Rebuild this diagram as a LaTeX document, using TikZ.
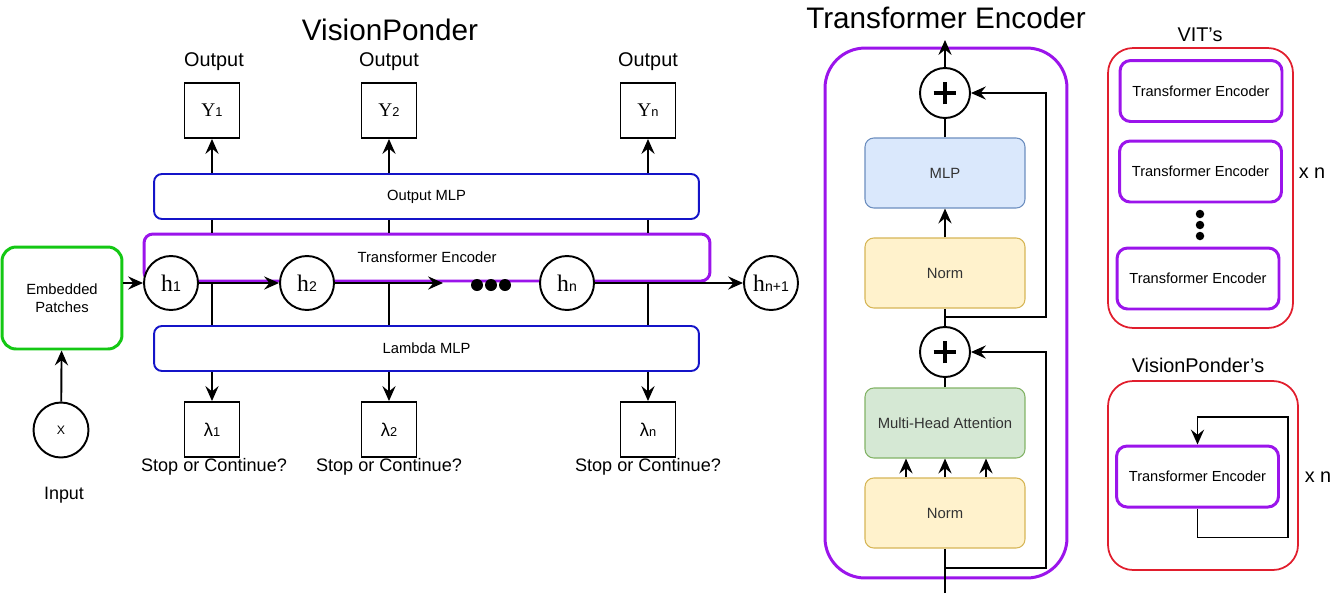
\documentclass[tikz,border=0pt]{standalone}
\usepackage{fontspec}
\setmainfont{Liberation Sans}[Ligatures=ResetAll]
\newfontfamily\tnr{Liberation Serif}
\usetikzlibrary{arrows.meta}
\definecolor{encpurple}{RGB}{155,20,235}
\definecolor{mlpblue}{RGB}{20,20,200}
\definecolor{embgreen}{RGB}{20,200,20}
\definecolor{vitred}{RGB}{225,30,45}
\definecolor{mlpfill}{HTML}{DAE8FC}
\definecolor{mlpline}{HTML}{6C8EBF}
\definecolor{normfill}{HTML}{FFF2CC}
\definecolor{normline}{HTML}{D6B656}
\definecolor{attfill}{HTML}{D5E8D4}
\definecolor{attline}{HTML}{82B366}
\newcommand{\hsym}[2]{{\tnr\fontsize{13.5}{14}\selectfont #1}{\fontsize{8}{8}\selectfont #2}}
\newcommand{\ysym}[1]{{\tnr\fontsize{11}{11}\selectfont Y}{\fontsize{7.3}{7}\selectfont #1}}
\newcommand{\lsym}[1]{{\fontsize{10.5}{10}\selectfont λ}{\fontsize{7.3}{7}\selectfont #1}}
\tikzset{
  arr/.style={-{Stealth[length=8.5pt,width=7.5pt,inset=3pt]}},
  title/.style={font=\fontsize{16.9}{18}\selectfont},
  lbl/.style={font=\fontsize{11.3}{13}\selectfont},
  sqbox/.style={draw, minimum width=1.1cm, minimum height=1.1cm, inner sep=0pt},
  hcirc/.style={draw, circle, minimum size=1.08cm, inner sep=0pt},
  mlpbar/.style={draw=mlpblue, rounded corners=4.5pt, minimum width=10.9cm, minimum height=0.9cm,
    font=\fontsize{8.4}{10}\selectfont},
  encbar/.style={draw=encpurple, line width=1.7pt, rounded corners=5pt, minimum width=11.32cm,
    minimum height=0.94cm, font=\fontsize{8.4}{10}\selectfont},
  encsmall/.style={draw=encpurple, line width=1.7pt, rounded corners=6pt, minimum width=3.24cm,
    minimum height=1.22cm, font=\fontsize{8.3}{10}\selectfont},
  embbox/.style={draw=embgreen, line width=1.7pt, rounded corners=8pt, minimum width=2.4cm,
    minimum height=2.04cm, align=center, font=\fontsize{8.4}{10.2}\selectfont},
  redbox/.style={draw=vitred, line width=1pt, rounded corners=0.5cm},
  block/.style={rounded corners=5pt, minimum width=3.2cm, minimum height=1.4cm, line width=0.6pt,
    text=black!80, font=\fontsize{8.45}{10}\selectfont},
  plusc/.style={draw, fill=white, circle, minimum size=1cm, inner sep=0pt,
    path picture={\draw[line width=2.3pt]
      ([xshift=-6.5pt]path picture bounding box.center) -- ([xshift=6.5pt]path picture bounding box.center)
      ([yshift=-6.5pt]path picture bounding box.center) -- ([yshift=6.5pt]path picture bounding box.center);}}
}
\begin{document}
\begin{tikzpicture}[x=0.02cm,y=-0.02cm,line width=1.1pt]
\useasboundingbox (0,0) rectangle (1339,603);
% VisionPonder
\node[title] (vptitle) at (390,30) {VisionPonder};
\node[lbl] (out1) at (214,62) {Output};
\node[lbl] (out2) at (389,62) {Output};
\node[lbl] (outn) at (648,62) {Output};
\node[sqbox] (y1) at (212,110.5) {\ysym{1}};
\node[sqbox] (y2) at (389,110.5) {\ysym{2}};
\node[sqbox] (yn) at (648,110.5) {\ysym{n}};
\node[mlpbar] (outmlp) at (426.5,196.5) {Output MLP};
\node[encbar] (enc) at (427,257.5) {\raisebox{-3pt}{Transformer Encoder}};
\node[mlpbar] (lammlp) at (426.5,348.5) {Lambda MLP};
\node[sqbox] (l1) at (212,429.5) {\lsym{1}};
\node[sqbox] (l2) at (389,429.5) {\lsym{2}};
\node[sqbox] (ln) at (648,429.5) {\lsym{n}};
\node[lbl, font=\fontsize{10.3}{12}\selectfont] (stop1) at (214,467) {Stop or Continue?};
\node[lbl, font=\fontsize{10.3}{12}\selectfont] (stop2) at (389,467) {Stop or Continue?};
\node[lbl, font=\fontsize{10.3}{12}\selectfont] (stopn) at (648,467) {Stop or Continue?};
\node[embbox] (emb) at (62,298) {Embedded\\Patches};
\node[hcirc, minimum size=1.1cm, font=\fontsize{7}{7}\selectfont] (xin) at (61,430) {X};
\node[lbl, font=\fontsize{10.2}{12}\selectfont] (input) at (64,495) {Input};
\node[hcirc, fill=white] (h1) at (171,283) {\hsym{h}{1}};
\node[hcirc, fill=white] (h2) at (307,283) {\hsym{h}{2}};
\node[hcirc, fill=white] (hn) at (567,283) {\hsym{h}{n}};
\node[hcirc] (hn1) at (771,283) {\hsym{h}{n+1}};
\coordinate (dotsl) at (443,283);
\fill (477,285) circle [radius=0.12cm] (491,285) circle [radius=0.12cm] (505,285) circle [radius=0.12cm];
\draw[arr] (emb.east |- h1) -- (h1);
\draw[arr] (xin) -- (emb);
\draw[arr] (h1) -- (h2);
\draw[arr] (h2) -- (dotsl);
\draw[arr] (hn) -- (hn1);
\draw[arr] (y1 |- outmlp.north) -- (y1);
\draw[arr] (y2 |- outmlp.north) -- (y2);
\draw[arr] (yn |- outmlp.north) -- (yn);
\draw (y1 |- outmlp.south) -- (y1 |- enc.north);
\draw (y2 |- outmlp.south) -- (y2 |- enc.north);
\draw (yn |- outmlp.south) -- (yn |- enc.north);
\draw (l1 |- h1) -- (l1 |- lammlp.north);
\draw (l2 |- h1) -- (l2 |- lammlp.north);
\draw (ln |- h1) -- (ln |- lammlp.north);
\draw[arr] (l1 |- lammlp.south) -- (l1);
\draw[arr] (l2 |- lammlp.south) -- (l2);
\draw[arr] (ln |- lammlp.south) -- (ln);
% Transformer Encoder
\node[title] (tetitle) at (946,18) {Transformer Encoder};
\node[draw=encpurple, line width=1.7pt, rounded corners=0.8cm, minimum width=4.84cm,
  minimum height=10.6cm] (teblock) at (946,313) {};
\node[plusc] (plus1) at (945,93) {};
\node[block, fill=mlpfill, draw=mlpline] (mlp) at (945,173) {MLP};
\node[block, fill=normfill, draw=normline] (norm1) at (945,273) {Norm};
\node[plusc] (plus2) at (945,352) {};
\node[block, fill=attfill, draw=attline] (mha) at (945,423) {Multi-Head Attention};
\node[block, fill=normfill, draw=normline] (norm2) at (945,513) {Norm};
\coordinate (tein) at (945,593);
\coordinate (teout) at (945,40);
\draw (tein) -- (norm2);
\draw[arr] (tein |- 0,568) -| (1046,352) -- (plus2);
\draw[arr] (norm2.north -| 906,0) -- (mha.south -| 906,0);
\draw[arr] (norm2) -- (mha);
\draw[arr] (norm2.north -| 986,0) -- (mha.south -| 986,0);
\draw (mha) -- (plus2);
\draw (plus2) -- (norm1);
\draw[arr] (tein |- 0,317) -| (1046,93) -- (plus1);
\draw[arr] (norm1) -- (mlp);
\draw (mlp) -- (plus1);
\draw[arr] (plus1) -- (teout);
% VIT's
\node[lbl] (vittitle) at (1200,35) {VIT's};
\node[redbox, minimum width=3.7cm, minimum height=5.6cm] (vitbox) at (1200.5,188) {};
\node[encsmall] (vit1) at (1201,91) {Transformer Encoder};
\node[encsmall] (vit2) at (1200.5,171.5) {Transformer Encoder};
\node[encsmall] (vit3) at (1198,278.5) {Transformer Encoder};
\fill (1200,214) circle [radius=0.085cm] (1200,225) circle [radius=0.085cm] (1200,236) circle [radius=0.085cm];
\node[lbl] (xn1) at (1312,173) {x n};
% VisionPonder's
\node[lbl] (vptitle2) at (1198,365) {VisionPonder's};
\node[redbox, minimum width=3.8cm, minimum height=3.78cm] (vpbox) at (1203,475.5) {};
\node[encsmall] (vpenc) at (1197.5,476.5) {Transformer Encoder};
\draw[arr] (vpenc.south) -- ++(0,29) -| (1288,417) -| (vpenc.north);
\node[lbl] (xn2) at (1318,477) {x n};
\end{tikzpicture}
\end{document}
